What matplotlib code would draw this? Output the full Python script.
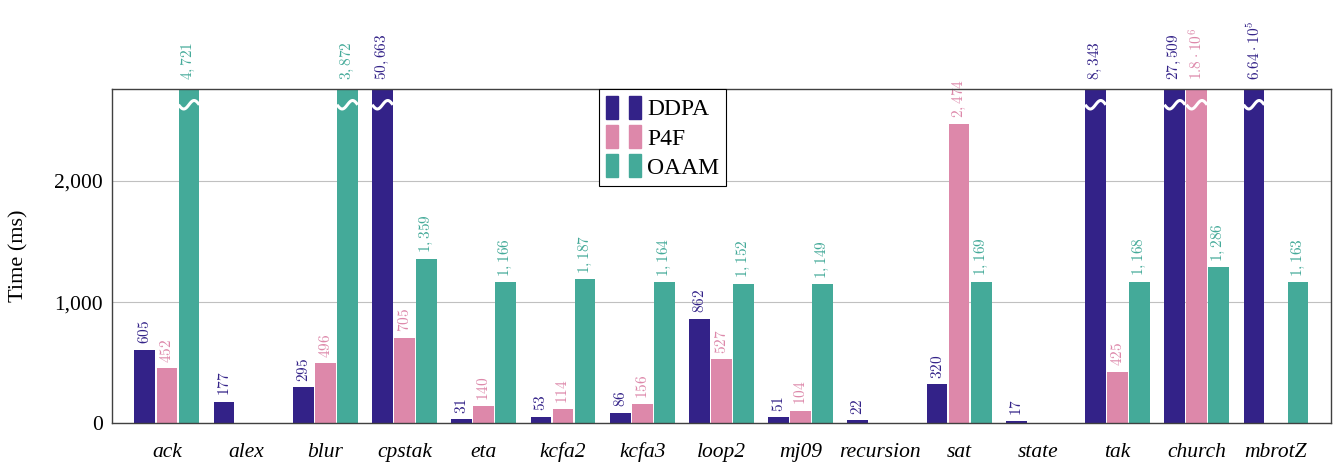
import numpy as np
import matplotlib
matplotlib.use("Agg")
import matplotlib.pyplot as plt
from matplotlib.patches import Patch
from matplotlib.legend_handler import HandlerTuple

plt.rcParams['font.family'] = 'Liberation Serif'
plt.rcParams['mathtext.fontset'] = 'cm'

# === DATA ===
benchmarks = ['ack', 'alex', 'blur', 'cpstak', 'eta', 'kcfa2', 'kcfa3', 'loop2',
              'mj09', 'recursion', 'sat', 'state', 'tak', 'church', 'mbrotZ']
ddpa = [605, 177, 295, 50663, 31, 53, 86, 862, 51, 22, 320, 17, 8343, 27509, 6.64e5]
p4f = [452, np.nan, 496, 705, 140, 114, 156, 527, 104, np.nan, 2474, np.nan, 425, 1.8e6, np.nan]
oaam = [4721, np.nan, 3872, 1359, 1166, 1187, 1164, 1152, 1149, np.nan, 1169, np.nan, 1168, 1286, 1163]

series = [('DDPA', ddpa, '#332288'),
          ('P4F', p4f, '#dd88aa'),
          ('OAAM', oaam, '#44aa99')]

YMAX = 2760
BREAK_Y = 2630


def fmt(v):
    if v >= 1e5:
        m, e = '{:.2e}'.format(v).split('e')
        m = m.rstrip('0').rstrip('.')
        return r'$%s\cdot10^{%d}$' % (m, int(e))
    return '$' + '{:,}'.format(int(v)) + '$'


fig, ax = plt.subplots(figsize=(13.36, 4.66), dpi=100)
x = np.arange(len(benchmarks))
w = 0.262
step = 0.278

for i, (name, vals, col) in enumerate(series):
    vals = np.array(vals, dtype=float)
    pos = x + (i - 1) * step
    shown = np.minimum(vals, YMAX + 100)
    ax.bar(pos, shown, width=w, color=col, zorder=2)
    for p, v in zip(pos, vals):
        if np.isnan(v):
            continue
        if v > YMAX:
            # break mark
            t = np.linspace(0, 1, 40)
            xs = p - w / 2 + t * w
            ys = BREAK_Y - 35 * np.sin(2 * np.pi * t)
            ax.plot(xs, ys, color='white', lw=2.2, zorder=3, solid_capstyle='butt')
            ax.text(p, YMAX + 75, fmt(v), rotation=90, ha='center', va='bottom',
                    color=col, fontsize=11, clip_on=False)
        else:
            ax.text(p, v + 45, fmt(v), rotation=90, ha='center', va='bottom',
                    color=col, fontsize=11)

ax.set_xlim(-0.69, len(benchmarks) - 1 + 0.69)
ax.set_ylim(0, YMAX)
ax.set_yticks([0, 1000, 2000])
ax.set_yticklabels(['0', '1,000', '2,000'], fontsize=15.5)
ax.set_xticks(x)
ax.set_xticklabels(benchmarks, fontsize=15.5, style='italic')
ax.tick_params(axis='x', length=0, pad=14)
ax.tick_params(axis='y', length=0, pad=7)
ax.set_ylabel('Time (ms)', fontsize=16, labelpad=18)
ax.grid(axis='y', color='#c0c0c0', lw=0.8, zorder=0)
for s in ax.spines.values():
    s.set_color('#404040')
    s.set_linewidth(1.0)
    s.set_zorder(4)

handles = [(Patch(color=c), Patch(color=c)) for _, _, c in series]
leg = ax.legend(handles, [n for n, _, _ in series], loc='upper center',
                bbox_to_anchor=(0.4515, 1.0), fontsize=17, fancybox=False,
                edgecolor='black', framealpha=1,
                handler_map={tuple: HandlerTuple(ndivide=None, pad=0.45)},
                handlelength=1.5, handleheight=1.1, handletextpad=0.25,
                borderpad=0.3, labelspacing=0.2, borderaxespad=0)
leg.get_frame().set_linewidth(0.8)
leg.set_zorder(5)

plt.subplots_adjust(left=0.084, right=0.996, bottom=0.092, top=0.809)
plt.savefig('out.png', dpi=100)
